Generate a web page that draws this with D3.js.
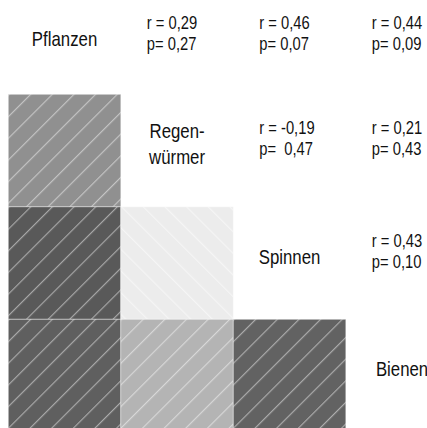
<!DOCTYPE html>
<html lang="de">
<head>
<meta charset="UTF-8">
<title>Korrelationsmatrix</title>
<script src="https://d3js.org/d3.v7.min.js"></script>
<style>
  body { margin: 0; background: #fff; }
  text { font-family: "Liberation Sans", Arial, sans-serif; fill: #111; }
</style>
</head>
<body>
<div id="chart"></div>
<script>
// species on the diagonal, with line breaks for the labels
const species = ["Pflanzen", "Regenwürmer", "Spinnen", "Bienen"];
const speciesLines = [["Pflanzen"], ["Regen-", "würmer"], ["Spinnen"], ["Bienen"]];

// pairs (row species, column species) and their correlation values
const pairA = ["Pflanzen", "Pflanzen", "Pflanzen", "Regenwürmer", "Regenwürmer", "Spinnen"];
const pairB = ["Regenwürmer", "Spinnen", "Bienen", "Spinnen", "Bienen", "Bienen"];
const rValues = [0.29, 0.46, 0.44, -0.19, 0.21, 0.43];
const pValues = [0.27, 0.07, 0.09, 0.47, 0.43, 0.10];

const width = 427, height = 428;
const narrow = 0.82; // the original uses a condensed sans face

const svg = d3.select("#chart").append("svg")
    .attr("width", width)
    .attr("height", height);

const x = d3.scaleBand().domain(species).range([8.3, 8.3 + 4 * 112.5]);
const y = d3.scaleBand().domain(species).range([-18.2, -18.2 + 4 * 112.5]);
const cell = x.bandwidth();

// top row is cut off by the frame, so text there sits against the visible edge
const rowTop = s => Math.max(y(s), -11);

const color = d3.scaleLinear()
    .domain([-0.2, 0.2, 0.3, 0.45])
    .range(["#ededed", "#b8b8b8", "#8b8b8b", "#5c5c5c"]);

const de = d3.formatLocale({decimal: ",", thousands: ".", grouping: [3], currency: ["", "€"], minus: "-"});
const fmt = de.format(".2f");

// hatch patterns: "/" for positive r, "\" for negative r
const defs = svg.append("defs");
[["hatchPos", 45], ["hatchNeg", -45]].forEach(([id, angle]) => {
  defs.append("pattern")
      .attr("id", id)
      .attr("patternUnits", "userSpaceOnUse")
      .attr("width", 15.3)
      .attr("height", 15.3)
      .attr("patternTransform", `rotate(${angle})`)
    .append("line")
      .attr("x1", 0.6).attr("y1", 0)
      .attr("x2", 0.6).attr("y2", 15.3)
      .attr("stroke", "#fff")
      .attr("stroke-opacity", 0.5)
      .attr("stroke-width", 1.1);
});

const pairs = pairA.map((a, i) => ({a: a, b: pairB[i], r: rValues[i], p: pValues[i]}));

// lower triangle: shaded cells
const cells = svg.append("g").selectAll("g")
    .data(pairs)
    .join("g")
    .attr("transform", d => `translate(${x(d.a)},${y(d.b)})`);

cells.append("rect")
    .attr("width", cell)
    .attr("height", cell)
    .attr("fill", d => color(d.r));

cells.append("rect")
    .attr("width", cell)
    .attr("height", cell)
    .attr("fill", d => d.r < 0 ? "url(#hatchNeg)" : "url(#hatchPos)")
    .attr("stroke", "#fff")
    .attr("stroke-opacity", 0.4)
    .attr("stroke-width", 1);

// upper triangle: r and p values
const stats = svg.append("g").selectAll("text")
    .data(pairs)
    .join("text")
    .attr("transform", d => `translate(${x(d.b) + 26},${rowTop(d.a) + 40}) scale(${narrow},1)`)
    .attr("font-size", 18)
    .style("white-space", "pre");

stats.append("tspan")
    .attr("x", 0)
    .text(d => `r = ${fmt(d.r)}`);

stats.append("tspan")
    .attr("x", 0)
    .attr("dy", 21)
    .text(d => `p= ${d.r < 0 ? " " : ""}${fmt(d.p)}`);

// diagonal: species names
const names = svg.append("g").selectAll("text")
    .data(species)
    .join("text")
    .attr("text-anchor", "middle")
    .attr("transform", (d, i) => `translate(${x(d) + cell / 2},${rowTop(d) + 57 - (speciesLines[i].length - 1) * 13}) scale(${narrow},1)`)
    .attr("font-size", 20.5);

names.selectAll("tspan")
    .data((d, i) => speciesLines[i])
    .join("tspan")
    .attr("x", 0)
    .attr("dy", (d, j) => j === 0 ? 0 : 26)
    .text(d => d);
</script>
</body>
</html>
